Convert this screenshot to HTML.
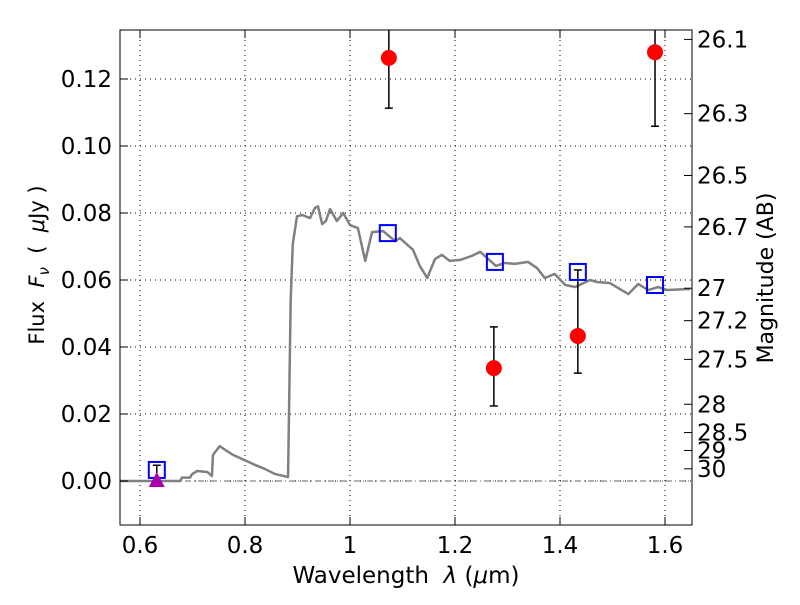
<!DOCTYPE html>
<html><head><meta charset="utf-8"><style>
body{margin:0;background:#fff;}
svg text{font-family:"DejaVu Sans","Liberation Sans",sans-serif;fill:#000;}
</style></head><body>
<svg id="chart" width="800" height="600" xmlns="http://www.w3.org/2000/svg">
<rect width="800" height="600" fill="#fff"/>
<g id="grid"></g>
<g id="marks"></g>
<rect x="120" y="30" width="572" height="495" fill="none" stroke="#000" stroke-width="1"/>
<g id="axes"></g>
<text x="406" y="583" font-size="23" text-anchor="middle" xml:space="preserve">Wavelength  <tspan font-style="italic">λ</tspan> (<tspan font-style="italic">μ</tspan>m)</text>
<text transform="translate(44,265) rotate(-90)" font-size="21" text-anchor="middle" xml:space="preserve">Flux  <tspan font-style="italic">F</tspan><tspan font-style="italic" font-size="15" dy="5">ν</tspan><tspan dy="-5">  (  </tspan><tspan font-style="italic">μ</tspan>Jy )</text>
<text transform="translate(773,278) rotate(-90)" font-size="22" text-anchor="middle">Magnitude (AB)</text>
</svg>
<script>
const modelWave=[0.562,0.676,0.68,0.695,0.699,0.709,0.728,0.737,0.739,0.752,0.768,0.777,0.79,0.819,0.838,0.857,0.882,0.887,0.891,0.899,0.909,0.924,0.933,0.939,0.947,0.954,0.962,0.975,0.987,1.0,1.015,1.029,1.042,1.063,1.086,1.095,1.12,1.133,1.147,1.162,1.175,1.19,1.21,1.232,1.248,1.278,1.295,1.314,1.339,1.356,1.371,1.39,1.41,1.429,1.457,1.47,1.495,1.53,1.549,1.568,1.587,1.604,1.648];
const modelFlux=[0,0,0.001,0.001,0.002,0.003,0.0027,0.0015,0.0078,0.0104,0.0087,0.0078,0.0069,0.0048,0.0036,0.0021,0.0012,0.054,0.0707,0.079,0.0794,0.0785,0.0815,0.082,0.0767,0.0776,0.0812,0.0776,0.080,0.0764,0.0755,0.0657,0.0743,0.0746,0.0716,0.0725,0.069,0.0642,0.0606,0.0663,0.0675,0.0657,0.066,0.0672,0.0684,0.0642,0.0651,0.0648,0.0654,0.0636,0.0606,0.0618,0.0585,0.0579,0.060,0.0594,0.0591,0.0558,0.0588,0.057,0.0579,0.057,0.0573];
const synthWave=[0.632,1.072,1.276,1.434,1.581];
const synthFlux=[0.0033,0.074,0.0654,0.0624,0.0585];
const obsWave=[1.074,1.274,1.434,1.581];
const obsFlux=[0.1263,0.0337,0.0433,0.128];
const obsLow=[0.1113,0.0224,0.0322,0.1059];
const obsHigh=[0.14,0.046,0.063,0.14];
const limWave=[0.632];
const limFlux=[0.0];
const limHigh=[0.0047];
const xTicks=[0.6,0.8,1.0,1.2,1.4,1.6];
const xTickLabels=["0.6","0.8","1","1.2","1.4","1.6"];
const yTicks=[0,0.02,0.04,0.06,0.08,0.10,0.12];
const yTickLabels=["0.00","0.02","0.04","0.06","0.08","0.10","0.12"];
const magTicks=[26.1,26.3,26.5,26.7,27,27.2,27.5,28,28.5,29,30];
const magTickLabels=["26.1","26.3","26.5","26.7","27","27.2","27.5","28","28.5","29","30"];

const NS="http://www.w3.org/2000/svg";
const X=v=>140+(v-0.6)*525;
const Y=v=>481-v*3350;
const L=120,R=692,T=30,B=525;
function mk(tag,attrs,parent){const e=document.createElementNS(NS,tag);for(const k in attrs)e.setAttribute(k,attrs[k]);parent.appendChild(e);return e;}
const grid=document.getElementById('grid'),marks=document.getElementById('marks'),axes=document.getElementById('axes');

xTicks.forEach((t,i)=>{
  const g=mk('line',{x1:X(t),x2:X(t),y1:T,y2:B,stroke:'#000','stroke-dasharray':'1,4','stroke-width':1},grid);
  
  
  mk('line',{x1:X(t),x2:X(t),y1:B,y2:B-8,stroke:'#000'},axes);
  mk('line',{x1:X(t),x2:X(t),y1:T,y2:T+8,stroke:'#000'},axes);
  const tx=mk('text',{x:X(t),y:B+28,'font-size':23,'text-anchor':'middle'},axes);tx.textContent=xTickLabels[i];
  
  
});
yTicks.forEach((t,i)=>{
  const g=mk('line',{x1:L,x2:R,y1:Y(t),y2:Y(t),stroke:'#000','stroke-dasharray':'1,4','stroke-width':1},grid);
  
  
  mk('line',{x1:L,x2:L+8,y1:Y(t),y2:Y(t),stroke:'#000'},axes);
  const tx=mk('text',{x:L-8,y:Y(t)+8,'font-size':23,'text-anchor':'end'},axes);tx.textContent=yTickLabels[i];
  
  
});
magTicks.forEach((m,i)=>{
  const y=Y(Math.pow(10,(23.9-m)/2.5));
  mk('line',{x1:R,x2:R-8,y1:y,y2:y,stroke:'#000'},axes);
  const tx=mk('text',{x:R+5,y:y+8,'font-size':23},axes);tx.textContent=magTickLabels[i];
  
  
});
const z=mk('line',{x1:L,x2:R,y1:Y(0),y2:Y(0),stroke:'#666','stroke-dasharray':'6,3,1,3','stroke-width':1},marks);


const pts=modelWave.map((w,i)=>X(w)+','+Y(modelFlux[i])).join(' ');
const pl=mk('polyline',{points:pts,fill:'none',stroke:'#808080','stroke-width':2.5,'stroke-linejoin':'round'},marks);


function ebar(x,lo,hi){
  const y1=Math.max(Y(hi),T),y2=Y(lo);
  mk('line',{x1:x,x2:x,y1:y1,y2:y2,stroke:'#000','stroke-width':1.5},marks);
  if(Y(hi)>=T) mk('line',{x1:x-4,x2:x+4,y1:y1,y2:y1,stroke:'#000','stroke-width':1.5},marks);
  mk('line',{x1:x-4,x2:x+4,y1:y2,y2:y2,stroke:'#000','stroke-width':1.5},marks);
}
obsWave.forEach((w,i)=>ebar(X(w),obsLow[i],obsHigh[i]));
limWave.forEach((w,i)=>ebar(X(w),limFlux[i],limHigh[i]));
synthWave.forEach((w,i)=>{
  const r=mk('rect',{x:X(w)-8,y:Y(synthFlux[i])-8,width:16,height:16,fill:'none',stroke:'#0000ff','stroke-width':2},marks);
  
  
});
obsWave.forEach((w,i)=>{
  const c=mk('circle',{cx:X(w),cy:Y(obsFlux[i]),r:8,fill:'#ff0000'},marks);
  
  
});
limWave.forEach((w,i)=>{
  const x=X(w),y=Y(limFlux[i]);
  const t=mk('polygon',{points:`${x},${y-9} ${x-8},${y+6} ${x+8},${y+6}`,fill:'#aa00aa'},marks);
  
  
});
</script>
</body></html>
